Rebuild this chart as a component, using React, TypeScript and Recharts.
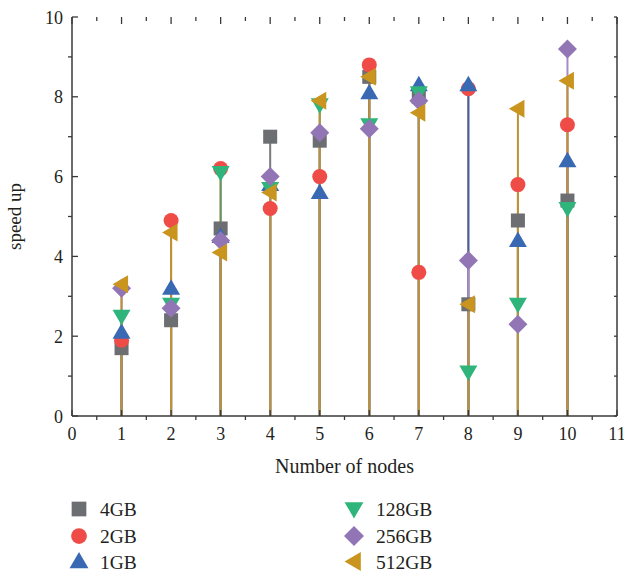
import React from 'react';
import { ScatterChart, Scatter, XAxis, YAxis, ErrorBar, Legend } from 'recharts';

// number of nodes on the x axis
const nodes = [1, 2, 3, 4, 5, 6, 7, 8, 9, 10];

// speed up per data size
const speed4GB = [1.7, 2.4, 4.7, 7.0, 6.9, 8.5, 8.0, 2.8, 4.9, 5.4];
const speed2GB = [1.9, 4.9, 6.2, 5.2, 6.0, 8.8, 3.6, 8.2, 5.8, 7.3];
const speed1GB = [2.1, 3.2, 4.5, 5.8, 5.6, 8.1, 8.3, 8.3, 4.4, 6.4];
const speed128GB = [2.5, 2.8, 6.1, 5.7, 7.8, 7.3, 8.1, 1.1, 2.8, 5.2];
const speed256GB = [3.2, 2.7, 4.4, 6.0, 7.1, 7.2, 7.9, 3.9, 2.3, 9.2];
const speed512GB = [3.3, 4.6, 4.1, 5.6, 7.9, 8.5, 7.6, 2.8, 7.7, 8.4];

const xTicks = [0, 0.5, 1, 1.5, 2, 2.5, 3, 3.5, 4, 4.5, 5, 5.5, 6, 6.5, 7, 7.5, 8, 8.5, 9, 9.5, 10, 10.5, 11];
const yTicks = [0, 1, 2, 3, 4, 5, 6, 7, 8, 9, 10];

const FONT = '"Liberation Serif", "DejaVu Serif", serif';
const INK = '#231f20';
const AXIS = '#3a3a3a';

type Kind = 'square' | 'circle' | 'up' | 'down' | 'diamond' | 'left';

// axis ids: the top / right frame axes share the same fixed domains as bottom / left,
// a series is bound to each so that Recharts computes and draws their ticks
const series: { name: string; values: number[]; color: string; line: string; kind: Kind; xId: string; yId: string }[] = [
  { name: '4GB', values: speed4GB, color: '#6d6e71', line: '#7a7a7c', kind: 'square', xId: 'bottom', yId: 'left' },
  { name: '2GB', values: speed2GB, color: '#ef4b47', line: '#e8874a', kind: 'circle', xId: 'bottom', yId: 'left' },
  { name: '1GB', values: speed1GB, color: '#3a69b3', line: '#3d63ad', kind: 'up', xId: 'bottom', yId: 'left' },
  { name: '128GB', values: speed128GB, color: '#2fb47b', line: '#5a9a6a', kind: 'down', xId: 'bottom', yId: 'left' },
  { name: '256GB', values: speed256GB, color: '#9275b5', line: '#a58cc4', kind: 'diamond', xId: 'bottom', yId: 'right' },
  { name: '512GB', values: speed512GB, color: '#c9951e', line: '#bb9236', kind: 'left', xId: 'top', yId: 'left' },
];

const Marker = ({ kind, cx, cy, color, s = 1 }: { kind: Kind; cx: number; cy: number; color: string; s?: number }) => {
  if (cx == null || cy == null) return null;
  switch (kind) {
    case 'square':
      return <rect x={cx - 7 * s} y={cy - 7 * s} width={14 * s} height={14 * s} fill={color} />;
    case 'circle':
      return <circle cx={cx} cy={cy} r={7.5 * s} fill={color} />;
    case 'up':
      return <polygon points={`${cx},${cy - 9 * s} ${cx + 9 * s},${cy + 6.5 * s} ${cx - 9 * s},${cy + 6.5 * s}`} fill={color} />;
    case 'down':
      return <polygon points={`${cx},${cy + 9 * s} ${cx + 9 * s},${cy - 6.5 * s} ${cx - 9 * s},${cy - 6.5 * s}`} fill={color} />;
    case 'diamond':
      return <polygon points={`${cx},${cy - 9.5 * s} ${cx + 9.5 * s},${cy} ${cx},${cy + 9.5 * s} ${cx - 9.5 * s},${cy}`} fill={color} />;
    case 'left':
      return <polygon points={`${cx - 9 * s},${cy} ${cx + 6.5 * s},${cy - 9 * s} ${cx + 6.5 * s},${cy + 9 * s}`} fill={color} />;
  }
  return null;
};

const BottomTick = (props: any) => {
  const { x, y, payload } = props;
  const major = Number.isInteger(payload.value);
  return (
    <g>
      {major ? <line x1={x} y1={y} x2={x} y2={y - 6} stroke={AXIS} strokeWidth={1.3} /> : <line x1={x} y1={y} x2={x} y2={y + 4} stroke={AXIS} strokeWidth={1.3} />}
      {major && (
        <text x={x} y={y + 24} textAnchor="middle" fontSize={18} fontFamily={FONT} fill={INK}>
          {payload.value}
        </text>
      )}
    </g>
  );
};

const TopTick = (props: any) => {
  const { x, y, payload } = props;
  const major = Number.isInteger(payload.value);
  return <line x1={x} y1={y} x2={x} y2={y + (major ? 7 : 4)} stroke={AXIS} strokeWidth={1.3} />;
};

const LeftTick = (props: any) => {
  const { x, y, payload } = props;
  const major = payload.value % 2 === 0;
  return (
    <g>
      {major ? <line x1={x} y1={y} x2={x + 6} y2={y} stroke={AXIS} strokeWidth={1.3} /> : <line x1={x} y1={y} x2={x - 4} y2={y} stroke={AXIS} strokeWidth={1.3} />}
      {major && (
        <text x={x - 9} y={y + 6.5} textAnchor="end" fontSize={18} fontFamily={FONT} fill={INK}>
          {payload.value}
        </text>
      )}
    </g>
  );
};

const RightTick = (props: any) => {
  const { x, y } = props;
  return <line x1={x} y1={y} x2={x - 3} y2={y} stroke={AXIS} strokeWidth={1.3} />;
};

const LegendBox = () => {
  const cols = [
    { mx: 79, tx: 100 },
    { mx: 354, tx: 376 },
  ];
  const rows = [33, 60, 85.5];
  return (
    <svg width={624} height={99} style={{ display: 'block' }}>
      {series.map((s, i) => {
        const c = cols[Math.floor(i / 3)];
        const ry = rows[i % 3];
        return (
          <g key={s.name}>
            <Marker kind={s.kind} cx={c.mx} cy={ry} color={s.color} s={1.05} />
            <text x={c.tx} y={ry + 7} fontSize={19.5} fontFamily={FONT} fill={INK}>
              {s.name}
            </text>
          </g>
        );
      })}
    </svg>
  );
};

export default function App() {
  return (
    <div style={{ position: 'absolute', left: 0, top: 0, background: '#fff' }}>
      <ScatterChart width={624} height={575} margin={{ top: 16, right: 6, left: 0, bottom: 0 }}>
        <XAxis
          xAxisId="bottom"
          dataKey="x"
          type="number"
          domain={[0, 11]}
          allowDataOverflow
          ticks={xTicks}
          interval={0}
          tickSize={0}
          tickMargin={0}
          tickLine={false}
          tick={<BottomTick />}
          axisLine={{ stroke: AXIS, strokeWidth: 1.5 }}
          height={60}
          label={{ value: 'Number of nodes', position: 'insideBottom', offset: 3, fill: INK, fontSize: 20, fontFamily: FONT }}
        />
        <XAxis
          xAxisId="top"
          dataKey="x"
          orientation="top"
          type="number"
          domain={[0, 11]}
          allowDataOverflow
          ticks={xTicks}
          interval={0}
          tickSize={0}
          tickMargin={0}
          tickLine={false}
          tick={<TopTick />}
          axisLine={false}
          height={1}
        />
        <YAxis
          yAxisId="left"
          dataKey="y"
          type="number"
          domain={[0, 10]}
          allowDataOverflow
          ticks={yTicks}
          interval={0}
          tickSize={0}
          tickMargin={0}
          tickLine={false}
          tick={<LeftTick />}
          axisLine={{ stroke: AXIS, strokeWidth: 1.5 }}
          width={72}
          label={{ value: 'speed up', angle: -90, position: 'insideLeft', offset: 14, fill: INK, fontSize: 19, fontFamily: FONT, style: { textAnchor: 'middle' } }}
        />
        <YAxis
          yAxisId="right"
          dataKey="y"
          orientation="right"
          type="number"
          domain={[0, 10]}
          allowDataOverflow
          ticks={yTicks}
          interval={0}
          tickSize={0}
          tickMargin={0}
          tickLine={false}
          tick={<RightTick />}
          axisLine={{ stroke: AXIS, strokeWidth: 1.5 }}
          width={1}
        />
        {series.map((s) => (
          <Scatter
            key={s.name}
            name={s.name}
            xAxisId={s.xId}
            yAxisId={s.yId}
            data={nodes.map((n, i) => ({ x: n, y: s.values[i], drop: [s.values[i], 0] }))}
            fill={s.color}
            isAnimationActive={false}
            shape={(p: any) => <Marker kind={s.kind} cx={p.cx} cy={p.cy} color={s.color} />}
          >
            <ErrorBar dataKey="drop" direction="y" width={0} stroke={s.line} strokeWidth={2} />
          </Scatter>
        ))}
        <Legend verticalAlign="bottom" height={99} content={() => <LegendBox />} wrapperStyle={{ left: 0, bottom: 0, width: 624 }} />
      </ScatterChart>
    </div>
  );
}
